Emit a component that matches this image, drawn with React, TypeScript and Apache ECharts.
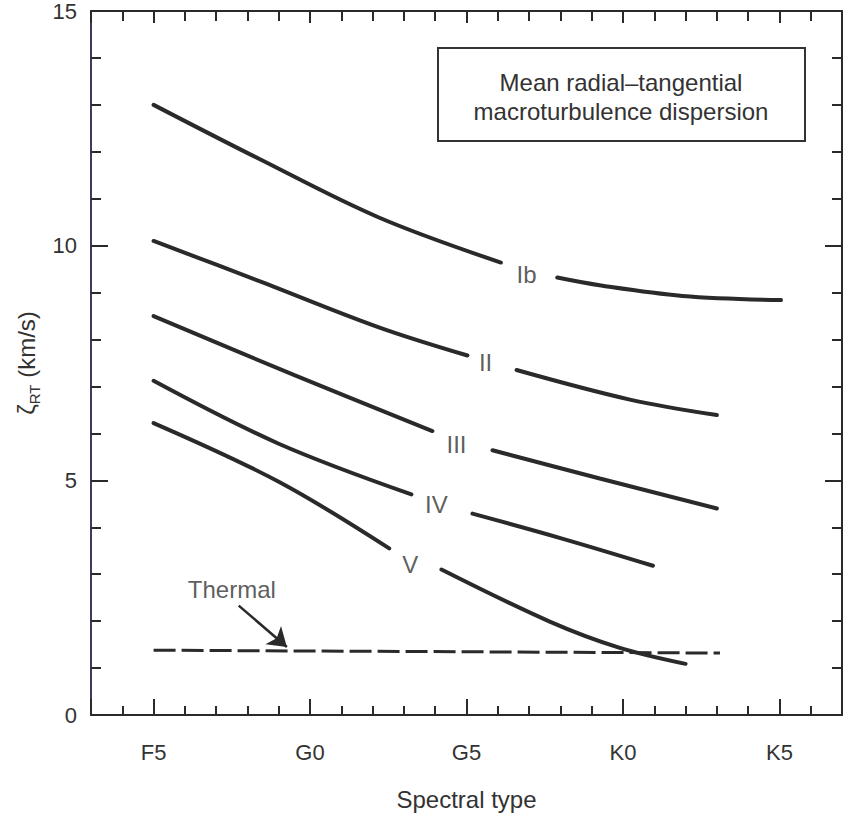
import React, { useEffect, useRef } from "react";
import * as echarts from "echarts";

// Spectral type axis: F5 = 0, one unit per subclass
const spectralTicks = [0, 5, 10, 15, 20];
const spectralNames = ["F5", "G0", "G5", "K0", "K5"];

// Luminosity-class curves (null = gap where the class label sits)
const ibX = [0, 3.4, 7.2, 11.1, 12, 12.9, 14.3, 16.9, 20.05];
const ibY = [13.0, 11.84, 10.6, 9.64, null, 9.32, 9.15, 8.93, 8.84];

const iiX = [0, 3.4, 7.2, 10.03, 10.8, 11.6, 15.22, 18.0];
const iiY = [10.1, 9.24, 8.26, 7.66, null, 7.35, 6.72, 6.39];

const iiiX = [0, 4.5, 8.91, 9.8, 10.83, 14.26, 18.0];
const iiiY = [8.5, 7.24, 6.05, null, 5.64, 5.04, 4.4];

const ivX = [0, 4.0, 8.24, 9.2, 10.19, 13.0, 15.96];
const ivY = [7.12, 5.78, 4.7, null, 4.29, 3.77, 3.18];

const vX = [0, 4.0, 7.53, 8.4, 9.2, 12.66, 14.9, 17.0];
const vY = [6.22, 4.97, 3.55, null, 3.1, 1.99, 1.43, 1.09];

const thermalX = [0, 18.1];
const thermalY = [1.38, 1.32];

// Annotations
const classNames = ["Ib", "II", "III", "IV", "V"];
const classLabelX = [11.92, 10.61, 9.68, 9.04, 8.2];
const classLabelY = [9.38, 7.52, 5.77, 4.49, 3.21];

const thermalText = "Thermal";
const thermalTextPos = [2.5, 2.67];
const arrowFrom = [2.72, 2.33];
const arrowTo = [4.26, 1.45];

const boxLines = ["Mean radial\u2013tangential", "macroturbulence dispersion"];

const font = "'Liberation Sans', Arial, Helvetica, sans-serif";
const ink = "#2a2a2a";
const textInk = "#333333";

const zip = (xs: number[], ys: (number | null)[]) =>
  xs.map((x, i) => [x, ys[i] == null ? "-" : ys[i]]);

export default function App() {
  const ref = useRef<HTMLDivElement>(null);

  useEffect(() => {
    if (!ref.current) return;
    const chart = echarts.init(ref.current, undefined, { renderer: "svg" });

    const curve = (xs: number[], ys: (number | null)[]) => ({
      type: "line",
      data: zip(xs, ys),
      symbol: "none",
      showSymbol: false,
      smooth: 0.35,
      connectNulls: false,
      lineStyle: { color: ink, width: 4, cap: "round" },
      z: 3,
    });

    const xCommon = {
      type: "value",
      min: -2,
      max: 22,
      splitNumber: 5,
      splitLine: { show: false },
      axisLine: { show: true, onZero: false, lineStyle: { color: ink, width: 2 } },
    };
    const yCommon = {
      type: "value",
      min: 0,
      max: 15,
      interval: 5,
      splitLine: { show: false },
      axisLine: { show: true, onZero: false, lineStyle: { color: ink, width: 2 } },
    };

    const option: any = {
      animation: false,
      backgroundColor: "#ffffff",
      grid: { left: 91, right: 6, top: 11, bottom: 100, containLabel: false },
      xAxis: [
        {
          ...xCommon,
          position: "bottom",
          name: "Spectral type",
          nameLocation: "middle",
          nameGap: 72,
          nameTextStyle: { fontFamily: font, fontSize: 24, color: textInk },
          axisTick: { show: true, inside: true, length: 16, lineStyle: { color: ink, width: 2 } },
          minorTick: { show: true, splitNumber: 5, length: 9, lineStyle: { color: ink, width: 2 } },
          axisLabel: {
            margin: 26,
            fontFamily: font,
            fontSize: 22,
            color: textInk,
            formatter: (v: number) => {
              const i = spectralTicks.indexOf(v);
              return i >= 0 ? spectralNames[i] : "";
            },
          },
        },
        {
          ...xCommon,
          position: "top",
          axisTick: { show: true, inside: true, length: 12, lineStyle: { color: ink, width: 2 } },
          minorTick: { show: true, splitNumber: 5, length: 10, lineStyle: { color: ink, width: 2 } },
          axisLabel: { show: false },
        },
      ],
      yAxis: [
        {
          ...yCommon,
          position: "left",
          axisLine: { show: true, onZero: false, lineStyle: { color: "#3c3c62", width: 2 } },
          name: "{z|\u03b6}{s|RT}{u| (km/s)}",
          nameLocation: "middle",
          nameGap: 44,
          nameRotate: 90,
          nameTextStyle: {
            rich: {
              z: { fontFamily: font, fontSize: 24, color: textInk, lineHeight: 30, verticalAlign: "middle" },
              s: { fontFamily: font, fontSize: 15, color: textInk, lineHeight: 16, verticalAlign: "bottom" },
              u: { fontFamily: font, fontSize: 24, color: textInk, lineHeight: 30, verticalAlign: "middle" },
            },
          },
          axisTick: { show: true, inside: true, length: 17, lineStyle: { color: ink, width: 2 } },
          minorTick: { show: true, splitNumber: 5, length: 10, lineStyle: { color: ink, width: 2 } },
          axisLabel: { margin: 14, fontFamily: font, fontSize: 22, color: textInk },
        },
        {
          ...yCommon,
          position: "right",
          axisTick: { show: true, inside: true, length: 17, lineStyle: { color: ink, width: 2 } },
          minorTick: { show: true, splitNumber: 5, length: 10, lineStyle: { color: ink, width: 2 } },
          axisLabel: { show: false },
        },
      ],
      series: [
        curve(ibX, ibY),
        curve(iiX, iiY),
        curve(iiiX, iiiY),
        curve(ivX, ivY),
        curve(vX, vY),
        {
          type: "line",
          data: zip(thermalX, thermalY),
          symbol: "none",
          showSymbol: false,
          lineStyle: { color: ink, width: 3, type: [22, 6] },
          z: 2,
        },
        {
          type: "lines",
          coordinateSystem: "cartesian2d",
          xAxisIndex: 0,
          yAxisIndex: 0,
          symbol: ["none", "arrow"],
          symbolSize: 18,
          lineStyle: { color: ink, width: 2.5, opacity: 1 },
          data: [{ coords: [arrowFrom, arrowTo] }],
          z: 4,
        },
        {
          type: "scatter",
          symbol: "circle",
          symbolSize: 1,
          silent: true,
          itemStyle: { color: "transparent" },
          data: [
            ...classNames.map((n, i) => ({ name: n, value: [classLabelX[i], classLabelY[i]] })),
            { name: thermalText, value: thermalTextPos },
          ],
          label: {
            show: true,
            position: "inside",
            formatter: "{b}",
            fontFamily: font,
            fontSize: 24,
            color: textInk,
          },
          z: 5,
        },
      ],
      graphic: [
        {
          type: "rect",
          shape: { x: 438, y: 48, width: 367, height: 93 },
          style: { fill: "#ffffff", stroke: "#333333", lineWidth: 2 },
          z: 10,
        },
        {
          type: "text",
          x: 621,
          y: 82,
          style: {
            text: boxLines[0],
            fontFamily: font,
            fontSize: 24,
            fill: textInk,
            align: "center",
            verticalAlign: "middle",
          },
          z: 11,
        },
        {
          type: "text",
          x: 621,
          y: 111,
          style: {
            text: boxLines[1],
            fontFamily: font,
            fontSize: 24,
            fill: textInk,
            align: "center",
            verticalAlign: "middle",
          },
          z: 11,
        },
      ],
    };

    chart.setOption(option);
    return () => chart.dispose();
  }, []);

  return (
    <div
      ref={ref}
      style={{ position: "fixed", left: 0, top: 0, width: 848, height: 816, background: "#fff" }}
    />
  );
}
